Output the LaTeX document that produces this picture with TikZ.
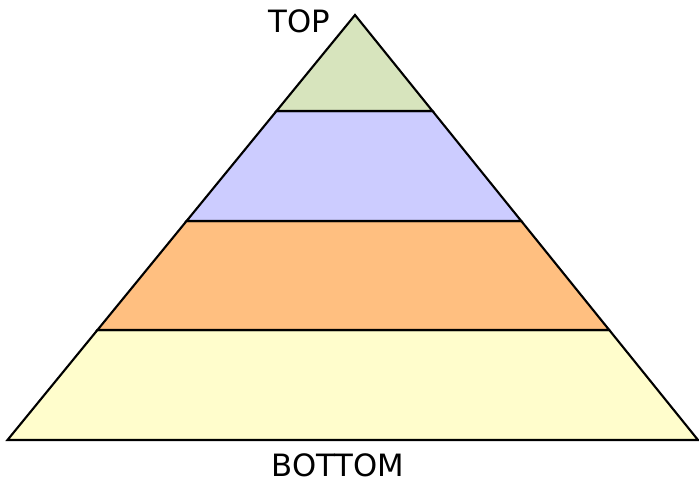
\documentclass[tikz,border=0pt]{standalone}
\usepackage{fontspec}
\usepackage{tikz}
\usetikzlibrary{positioning, calc}
\usepackage{xcolor}
\newfontfamily\lblfont{DejaVu Sans}
\definecolor{pygreen}{HTML}{D7E4BD}
\definecolor{pyblue}{HTML}{CCCCFF}
\definecolor{pyorange}{HTML}{FFBF80}
\definecolor{pyyellow}{HTML}{FFFDCC}

\begin{document}
\begin{tikzpicture}[layer/.style={draw=black, line width=1.2pt, line join=miter},
                    lbl/.style={font=\lblfont\fontsize{17.5}{20}\selectfont, inner sep=0pt}]
        \useasboundingbox (0,0) rectangle (13.98,9.68);
        \coordinate (apex) at (7.10,9.38);
        \coordinate (bl) at (0.15,0.88);
        \coordinate (br) at (13.96,0.88);
        % layer edges on both sides
        \coordinate (l1) at ($(apex)!0.2259!(bl)$);
        \coordinate (r1) at ($(apex)!0.2259!(br)$);
        \coordinate (l2) at ($(apex)!0.4847!(bl)$);
        \coordinate (r2) at ($(apex)!0.4847!(br)$);
        \coordinate (l3) at ($(apex)!0.7412!(bl)$);
        \coordinate (r3) at ($(apex)!0.7412!(br)$);
        \filldraw[layer, fill=pyyellow] (l3) -- (bl) -- (br) -- (r3) -- cycle;
        \filldraw[layer, fill=pyorange] (l2) -- (l3) -- (r3) -- (r2) -- cycle;
        \filldraw[layer, fill=pyblue] (l1) -- (l2) -- (r2) -- (r1) -- cycle;
        \filldraw[layer, fill=pygreen] (apex) -- (l1) -- (r1) -- cycle;
        \node[lbl] (top) at (5.98,9.25) {TOP};
        \node[lbl] (bottom) at (6.76,0.38) {BOTTOM};
      \end{tikzpicture}
\end{document}
